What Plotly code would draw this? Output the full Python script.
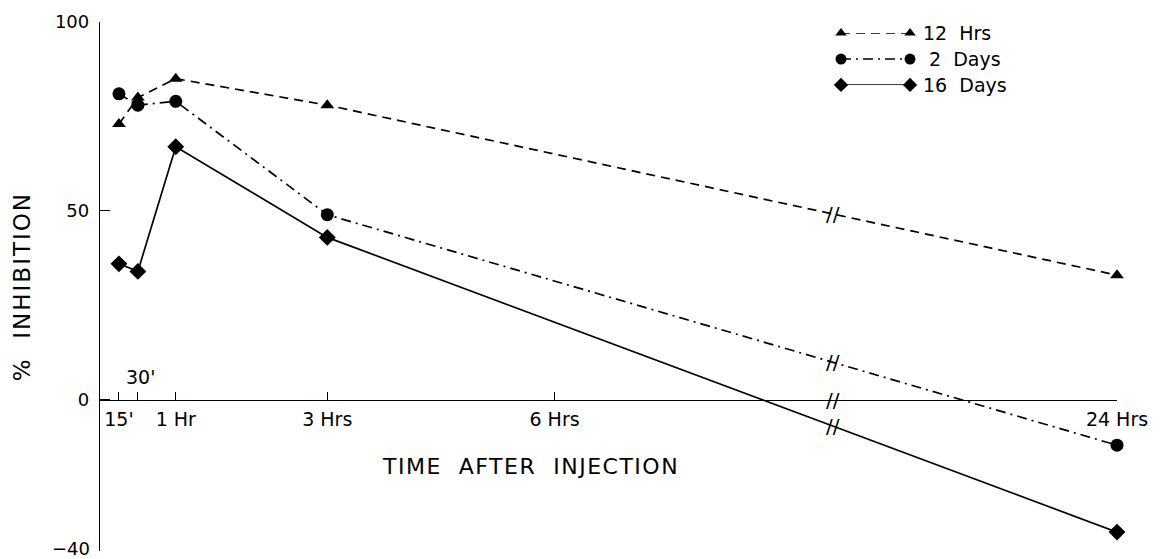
import plotly.graph_objects as go
import numpy as np

# ---------------- data ----------------
times_hr = [0.25, 0.5, 1, 3, 24]
series_names = ["12  Hrs", " 2  Days", "16  Days"]
vals_12h = [73, 80, 85, 78, 33]
vals_2d = [81, 78, 79, 49, -12]
vals_16d = [36, 34, 67, 43, -35]

tick_times = [0.25, 0.5, 1, 3, 6, 24]
tick_labels = ["15'", "", "1 Hr", "3 Hrs", "6 Hrs", "24 Hrs"]
above_label_time = 0.5
above_label = "30'"

y_ticks = [100, 50, 0]
y_ticklabels = ["100", "50", "0"]
y_bottom_tick = -40
y_bottom_label = "\u221240"

x_title = "TIME  AFTER  INJECTION"
y_title = "%  INHIBITION"

# broken time axis: linear up to BREAK_T, compressed after
BREAK_T = 9.67
COMPRESS = 0.262


def axis_pos(t):
    t = np.asarray(t, dtype=float)
    return np.where(t <= BREAK_T, t, BREAK_T + (t - BREAK_T) * COMPRESS)


x_pos = axis_pos(times_hr)
x_end = float(axis_pos(24))

FONT = "DejaVu Sans"
XTICKFONT = dict(family=FONT, size=19, color="black")
YTICKFONT = dict(family=FONT, size=18, color="black")
styles = [
    dict(symbol="triangle-up", size=12, dash="9px,6px"),
    dict(symbol="circle", size=13, dash="10px,5px,2px,5px"),
    dict(symbol="diamond", size=13, dash="solid"),
]
all_vals = [vals_12h, vals_2d, vals_16d]


def spaced(s, px):
    return f'<span style="letter-spacing:{px}px">{s}</span>'


fig = go.Figure()
for name, vals, st in zip(series_names, all_vals, styles):
    fig.add_trace(go.Scatter(
        x=x_pos, y=vals, mode="lines+markers", name=name,
        line=dict(color="black", width=1.7, dash=st["dash"]),
        marker=dict(symbol=st["symbol"], size=st["size"], color="black"),
        cliponaxis=False, showlegend=False,
    ))

# custom legend (marker - line - marker) on its own small axes
for i, (name, st) in enumerate(zip(series_names, styles)):
    fig.add_trace(go.Scatter(
        x=[0, 1], y=[-i, -i], mode="lines+markers", xaxis="x2", yaxis="y2",
        line=dict(color="black", width=1.5, dash=st["dash"]),
        marker=dict(symbol=st["symbol"], size=st["size"] - 2, color="black"),
        cliponaxis=False, showlegend=False, hoverinfo="skip",
    ))
    fig.add_annotation(x=1, y=-i, xref="x2", yref="y2", text=name,
                       showarrow=False, xanchor="left", yanchor="middle",
                       xshift=11, font=dict(family=FONT, size=19, color="black"))

annotations = []
# break marks on each line at the break position
bx = float(axis_pos(BREAK_T))
BREAKFONT = dict(family=FONT, size=20, color="black")
for vals in all_vals:
    yb = float(np.interp(bx, x_pos, vals))
    annotations.append(dict(x=bx, y=yb, xref="x", yref="y", text="//",
                            showarrow=False, xanchor="center", yanchor="middle",
                            font=BREAKFONT))
annotations.append(dict(x=bx, y=0, xref="x", yref="y", text="//",
                        showarrow=False, xanchor="center", yanchor="middle",
                        font=BREAKFONT))
# 30' label above the axis
annotations.append(dict(x=float(axis_pos(above_label_time)), y=0, xref="x", yref="y",
                        text=above_label, showarrow=False, yanchor="bottom",
                        xanchor="center", xshift=3, yshift=10, font=XTICKFONT))
# bottom y tick label, nudged up slightly so it stays on the page
annotations.append(dict(x=0, y=y_bottom_tick, xref="paper", yref="y",
                        text=y_bottom_label, showarrow=False, xanchor="right",
                        yanchor="middle", xshift=-8, yshift=3, font=YTICKFONT))
# axis titles
annotations.append(dict(x=0.423, y=0.159, xref="paper", yref="paper",
                        text=spaced(x_title, 1.5), showarrow=False,
                        xanchor="center", yanchor="middle",
                        font=dict(family=FONT, size=22, color="black")))
annotations.append(dict(x=-0.077, y=0.5, xref="paper", yref="paper",
                        text=spaced(y_title, 2), showarrow=False, textangle=-90,
                        xanchor="center", yanchor="middle",
                        font=dict(family=FONT, size=23, color="black")))
for a in annotations:
    fig.add_annotation(**a)

# page body has an 8px default margin, so the figure is sized to fit in it
fig.update_layout(
    width=1152, height=551,
    margin=dict(l=92, r=43, t=14, b=8),
    paper_bgcolor="white", plot_bgcolor="white",
    xaxis=dict(range=[0, x_end], tickvals=list(axis_pos(tick_times)),
               ticktext=tick_labels, ticks="inside", ticklen=8,
               tickcolor="black", showline=True, linecolor="black",
               linewidth=1.3, showgrid=False, zeroline=False,
               anchor="free", position=40 / 140, tickfont=XTICKFONT,
               ticklabelstandoff=2, automargin=False),
    yaxis=dict(range=[-40, 100], tickvals=y_ticks + [y_bottom_tick],
               ticktext=y_ticklabels + [""],
               ticks="inside", ticklen=10, tickcolor="black",
               showline=True, linecolor="black", linewidth=1.3,
               showgrid=False, zeroline=False, ticklabelstandoff=6,
               tickfont=YTICKFONT, automargin=False),
    xaxis2=dict(domain=[0.7286, 0.7965], range=[0, 1], visible=False,
                anchor="y2", automargin=False),
    yaxis2=dict(domain=[0.881, 0.979], range=[-2, 0], visible=False,
                anchor="x2", automargin=False),
)

fig.write_html("out.html")
